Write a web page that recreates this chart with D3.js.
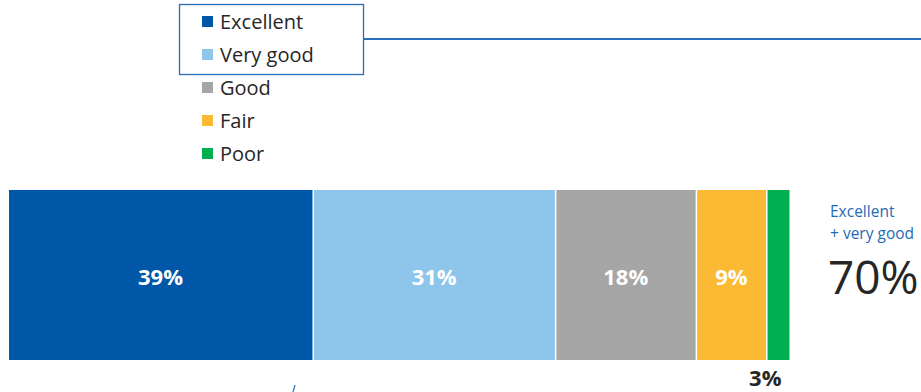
<!DOCTYPE html>
<html>
<head>
<meta charset="utf-8">
<script src="https://cdn.jsdelivr.net/npm/d3@7"></script>
<style>
  body { margin: 0; background: #fff; }
  text { font-family: "Open Sans", "Noto Sans", sans-serif; }
</style>
</head>
<body>
<div class="plot-item"></div>
<script>
var categories = ["Excellent", "Very good", "Good", "Fair", "Poor"];
var values = [39, 31, 18, 9, 3];
var colors = ["#0057a8", "#8ec5ea", "#a6a6a6", "#fbb934", "#00b050"];
var summaryLabel = ["Excellent", "+ very good"];
var summaryValue = 70;

var w = 921, h = 392;
var svg = d3.select(".plot-item").append("svg")
  .attr("width", w)
  .attr("height", h);

var x = d3.scaleLinear().domain([0, 100]).range([9, 791]);
var barTop = 190, barH = 170;

var stacked = [];
var acc = 0;
values.forEach(function(v, i) {
  stacked.push({cat: categories[i], v: v, x0: acc, x1: acc + v, color: colors[i]});
  acc += v;
});

// bars
svg.selectAll(".bar")
  .data(stacked)
  .enter().append("rect")
  .attr("class", "bar")
  .attr("x", function(d) { return x(d.x0); })
  .attr("y", barTop)
  .attr("width", function(d) { return x(d.x1) - x(d.x0) - 1.5; })
  .attr("height", barH)
  .attr("fill", function(d) { return d.color; });

// labels inside bars (small ones go below, shifted left a bit)
svg.selectAll(".lbl")
  .data(stacked)
  .enter().append("text")
  .attr("class", "lbl")
  .attr("x", function(d) {
    var cx = (x(d.x0) + x(d.x1)) / 2 - 1;
    return d.v < 5 ? cx - 13 : cx;
  })
  .attr("y", function(d) { return d.v < 5 ? 378 : barTop + barH / 2 + 2; })
  .attr("dy", "0.35em")
  .attr("text-anchor", "middle")
  .attr("font-size", 22)
  .attr("font-weight", "bold")
  .attr("fill", function(d) { return d.v < 5 ? "#262626" : "#fff"; })
  .text(function(d) { return d.v + "%"; });

// legend
var legend = svg.append("g").attr("transform", "translate(202,22)");
var items = legend.selectAll(".leg")
  .data(categories)
  .enter().append("g")
  .attr("transform", function(d, i) { return "translate(0," + (i * 33) + ")"; });
items.append("rect")
  .attr("x", 0).attr("y", -6)
  .attr("width", 11).attr("height", 11)
  .attr("fill", function(d, i) { return colors[i]; });
items.append("text")
  .attr("x", 18)
  .attr("dy", "0.35em")
  .attr("font-size", 20)
  .attr("fill", "#262626")
  .text(function(d) { return d; });

// highlight box around top two + connector line
svg.append("rect")
  .attr("x", 179.5).attr("y", 4.5)
  .attr("width", 184).attr("height", 70)
  .attr("fill", "none")
  .attr("stroke", "#2a6ebb")
  .attr("stroke-width", 1.3);
svg.append("line")
  .attr("x1", 364).attr("x2", 921)
  .attr("y1", 39).attr("y2", 39)
  .attr("stroke", "#2a6ebb")
  .attr("stroke-width", 2);

// small stray tick under bar
svg.append("line")
  .attr("x1", 293).attr("y1", 392)
  .attr("x2", 295).attr("y2", 385)
  .attr("stroke", "#2a6ebb")
  .attr("stroke-width", 1.2);

// summary
svg.selectAll(".sum")
  .data(summaryLabel)
  .enter().append("text")
  .attr("x", 830)
  .attr("y", function(d, i) { return 217 + i * 22; })
  .attr("font-size", 15.5)
  .attr("fill", "#1f6bb5")
  .text(function(d) { return d; });
svg.append("text")
  .attr("x", 828)
  .attr("y", 294)
  .attr("font-size", 46)
  .attr("fill", "#262626")
  .text(summaryValue + "%");
</script>
</body>
</html>
